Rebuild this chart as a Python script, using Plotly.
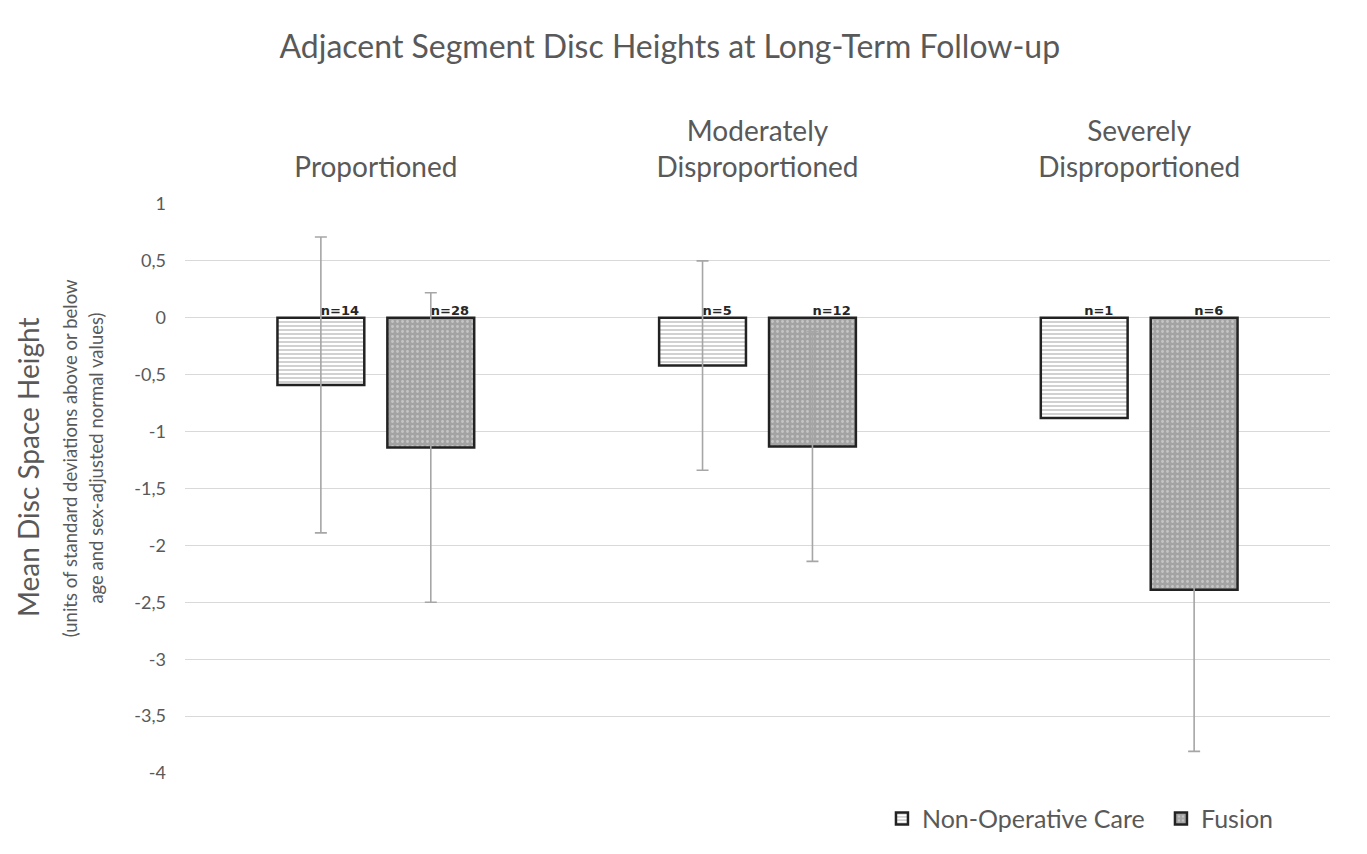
import plotly.graph_objects as go

# Groups by disc proportion category
categories = ["Proportioned", "Moderately<br>Disproportioned", "Severely<br>Disproportioned"]

# Mean disc space height (SD units vs. normal values)
nonop_mean = [-0.59, -0.42, -0.88]
fusion_mean = [-1.14, -1.13, -2.39]

# Standard deviations (n=1 group has none)
nonop_sd = [1.30, 0.92, None]
fusion_sd = [1.36, 1.01, 1.42]

# Group sizes
nonop_n = [14, 5, 1]
fusion_n = [28, 12, 6]

tick_vals = [1, 0.5, 0, -0.5, -1, -1.5, -2, -2.5, -3, -3.5, -4]
tick_text = ["1", "0,5", "0", "-0,5", "-1", "-1,5", "-2", "-2,5", "-3", "-3,5", "-4"]

FONT = "Lato, Open Sans, sans-serif"
TXT = "#595959"
ERR = "#a6a6a6"
GAP = 0.424

fig = go.Figure()

fig.add_trace(go.Bar(
    name="Non-Operative Care", x=categories, y=nonop_mean,
    offsetgroup="a",
    marker=dict(color="white", line=dict(color="#222222", width=2.5),
                pattern=dict(shape="-", fgcolor="#8c8c8c", bgcolor="white",
                             size=4, solidity=0.4)),
))
fig.add_trace(go.Bar(
    name="Fusion", x=categories, y=fusion_mean,
    offsetgroup="b",
    marker=dict(color="#a3a3a3", line=dict(color="#222222", width=2.5),
                pattern=dict(shape=".", fgcolor="#e8e8e8", bgcolor="#a3a3a3",
                             size=5, solidity=0.25)),
))

# Error bars drawn on invisible points so groups without an SD show nothing
for means, sds, grp in ((nonop_mean, nonop_sd, "a"), (fusion_mean, fusion_sd, "b")):
    ys = [m if s is not None else None for m, s in zip(means, sds)]
    errs = [s if s is not None else 0 for s in sds]
    fig.add_trace(go.Scatter(
        x=categories, y=ys, offsetgroup=grp, mode="markers",
        marker=dict(size=1, opacity=0),
        error_y=dict(type="data", array=errs, color=ERR, thickness=1.6, width=6),
        showlegend=False, hoverinfo="skip",
    ))

# Sample size labels sitting on the zero line above each bar
for n_vals, grp in ((nonop_n, "a"), (fusion_n, "b")):
    fig.add_trace(go.Scatter(
        x=categories, y=[0] * len(categories), offsetgroup=grp,
        mode="text", text=[f"<b>n={v}</b>" for v in n_vals],
        textposition="top right",
        textfont=dict(family="DejaVu Sans", size=13, color="#262626"),
        showlegend=False, hoverinfo="skip", cliponaxis=False,
    ))

fig.add_annotation(
    text="Mean Disc Space Height", textangle=-90, showarrow=False,
    xref="paper", yref="paper", x=-0.137, y=0.538, xanchor="center", yanchor="middle",
    font=dict(family=FONT, size=28, color=TXT),
)
for line, xpos in (("(units of standard deviations above or below", -0.1005),
                   ("age and sex-adjusted normal values)", -0.0775)):
    fig.add_annotation(
        text=line, textangle=-90, showarrow=False,
        xref="paper", yref="paper", x=xpos, y=0.553, xanchor="center", yanchor="middle",
        font=dict(family=FONT, size=18.5, color=TXT),
    )

fig.update_layout(
    width=1367, height=854,
    paper_bgcolor="white", plot_bgcolor="white",
    barmode="group", bargap=GAP, bargroupgap=0.21,
    scattermode="group", scattergap=GAP,
    margin=dict(l=185, r=37, t=204, b=81, autoexpand=False),
    title=dict(text="Adjacent Segment Disc Heights at Long-Term Follow-up",
               x=0.49, xanchor="center", y=0.945, yanchor="middle",
               font=dict(family=FONT, size=32, color=TXT)),
    font=dict(family=FONT, color=TXT),
    xaxis=dict(side="top", showgrid=False, zeroline=False, showline=False,
               ticks="", tickfont=dict(family=FONT, size=28, color=TXT),
               ticklabelstandoff=20),
    yaxis=dict(range=[-4, 1], tickvals=tick_vals, ticktext=tick_text,
               showgrid=True, gridcolor="#d9d9d9", gridwidth=1,
               zeroline=False, showline=False, ticks="",
               tickfont=dict(family=FONT, size=18, color=TXT), ticklabelstandoff=18),
    legend=dict(orientation="h", xref="paper", yref="paper", x=0.6087, y=-0.04,
                xanchor="left", yanchor="top",
                font=dict(family=FONT, size=25, color=TXT),
                itemwidth=30, entrywidth=234, traceorder="normal"),
)

fig.write_html("out.html")
